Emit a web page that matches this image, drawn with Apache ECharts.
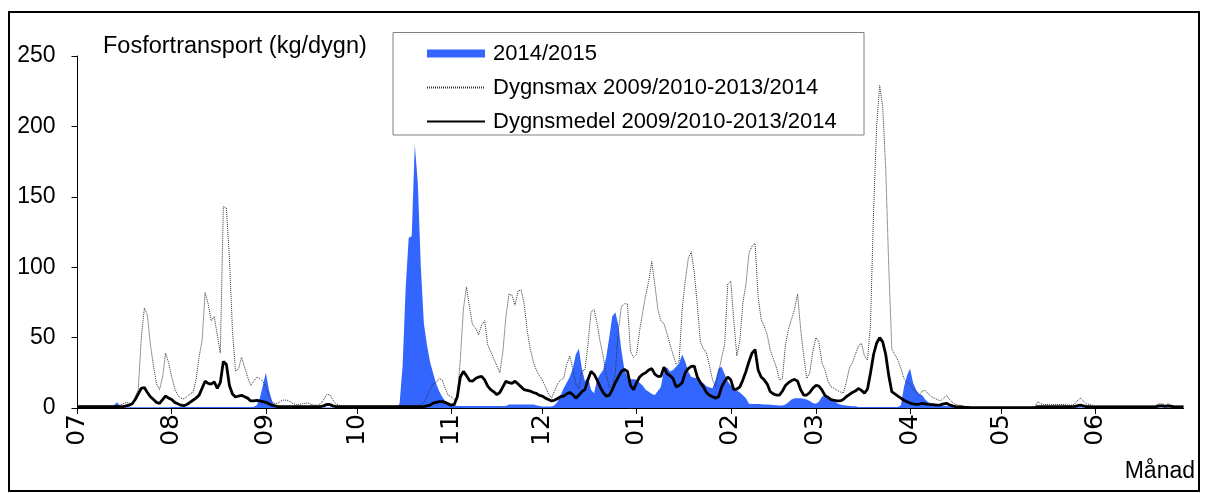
<!DOCTYPE html>
<html><head><meta charset="utf-8">
<script src="https://cdn.jsdelivr.net/npm/echarts@6/dist/echarts.min.js"></script>
<style>html,body{margin:0;padding:0;background:#fff}#c{width:1206px;height:493px}</style>
</head><body><div id="c"></div>
<script>
// Month tick labels (hydrological year July 2014 - June 2015) and month lengths
const monthLabels = ['07','08','09','10','11','12','01','02','03','04','05','06'];
const monthLengths = [31,31,30,31,30,31,31,28,31,30,31,30];

// 2014/2015 daily phosphorus transport (kg/dygn), one line per month
const flow1415 = [
/*07*/0.3,0.3,0.3,0.3,0.3,0.3,0.3,0.3,0.3,0.3,0.3,0.3,2,4,1.5,0.5,0.5,0.5,0.5,0.5,0.5,0.5,0.5,0.5,0.5,0.5,0.5,0.5,0.5,0.5,0.5,
/*08*/0.7,0.7,0.7,0.7,0.7,0.7,0.7,0.7,0.7,0.7,0.7,0.7,0.7,0.7,0.7,0.7,0.7,0.7,0.7,0.7,0.7,0.7,0.7,0.7,0.7,0.7,0.7,0.8,2,7,16,
/*09*/25,13,5,1.5,0.5,0.4,0.4,0.4,0.4,0.4,0.4,0.4,0.4,0.4,0.4,0.4,0.4,0.4,0.4,0.4,0.4,0.4,0.4,0.4,0.4,0.4,0.4,0.4,0.4,0.4,
/*10*/0.3,0.3,0.3,0.3,0.3,0.3,0.3,0.3,0.3,0.3,0.3,0.3,0.3,0.3,3,30,85,121,122,187,160,100,60,45,33,25,17.5,12,8,5,3,
/*11*/2.5,2,1.5,1.5,1.5,1.5,1.5,1.5,1.5,1.5,1.5,1.5,1.5,1.5,1.5,1.5,1.5,1.5,1.5,2.5,2.5,2.5,2.5,2.5,2.5,2.5,2.5,2.5,2,1.5,
/*12*/1,1,1,1,2,4.5,9,14,18,22,28,38,42,28,19,22,13,10.5,20,24,27,36,50,65,68,59,41,27,22,20.5,20.5,
/*01*/20,18,16,13,11.6,10,9.2,12,15,27,29,26,27,29.3,31.7,38,33,26,22,21.5,21,19,17.5,15.5,14.5,14,20,28,29.3,24,19,
/*02*/16,14,12.5,11,9,7,3,2.8,2.8,2.8,2.6,2.5,2.4,2.3,2.2,2,1.8,1.7,2.5,4,6,7,7,7,6.5,6,5,3.5,
/*03*/3,4.5,8,9.2,8,7,5,3.3,2.5,2,1.8,1.5,1.2,1.2,0.7,0.7,0.7,0.7,0.7,0.7,0.7,0.7,0.7,0.7,0.7,0.7,0.7,0.7,2,15,23,
/*04*/28,18,13,10,9,6,4,3.3,3,2.5,2,1.8,1.5,1.3,1.2,1,0.8,0.7,0.6,0.5,0.3,0.3,0.3,0.3,0.3,0.3,0.3,0.3,0.3,0.3,
/*05*/0.3,0.3,0.3,0.3,0.3,0.3,0.3,0.3,0.3,0.3,0.3,0.3,0.6,0.6,0.6,0.6,0.6,0.6,0.6,0.6,0.6,0.6,0.6,0.6,0.6,0.6,0.6,0.3,0.3,0.3,0.3,
/*06*/0.3,0.3,0.3,0.3,0.3,0.3,0.3,0.3,0.3,0.3,0.3,0.3,0.3,0.3,0.3,0.3,0.3,0.3,0.3,0.3,0.3,0.3,0.3,0.3,0.3,0.3,0.3,0.3,0.3,0.3
];

// Dygnsmax 2009/2010-2013/2014
const dygnsmax = [
/*07*/1.5,1.5,1.5,1.5,1.5,1.5,1.5,1.5,1.5,1.5,1.5,1.5,1.5,1.5,2,3,4,3.5,3,8,13,50,71,66,45,30,17,13,22,39,32,
/*08*/22,14,9,7,6.5,8,10,11,20,36,48,82,74,62,65,52,39,143,142,107,55,26,28,36,29,22,16,19,22,21,19,
/*09*/15,8,4.5,3,3.5,5,5.7,5.5,4.5,3,2.5,2.5,3,3.5,3.5,2.5,2,2,3,6,9.5,9.5,6,3,2,1.5,1.5,1.5,1.5,1.5,
/*10*/1.5,1.5,1.5,1.5,1.5,1.5,1.5,1.5,1.5,1.5,1.5,1.5,1.5,1.5,1.5,1.5,1.5,1.5,1.5,1.5,2,2.5,4,8,13,17,18,21,20,14,9,
/*11*/8,6,8,35,70,86,72,59,57,52,59,62,45,40,35,30,25,40,65,81,80,73,83,84,74,55,42,33,27,23,
/*12*/20,15,10,7,12,17,20,21,31,37,28,17,14,26,27,45,68,70,60,47,37,24,15,14,25,55,72,74,74,40,36,
/*01*/38,55,68,80,90,104,88,70,62,60,53,45,38,31,33,70,90,106,111,96,73,47,42,39,30,20,15,25,36,45,88,
/*02*/90,62,37,48,75,88,110,115,117,79,63,58,52,41,35,29,20,21,45,56,63,70,81,56,37,21,25,40,
/*03*/50,47,32,27,19,15,14,12.5,11.5,10.5,18,28,32,38,44,46,37,34,60,140,200,229,214,170,100,42,38,34,28,21,18,
/*04*/17,13,11,9,12,12.5,10,8,7,6,5,7,9,6,4,2.5,2,1.5,1,0.8,0.5,0.5,0.5,0.5,0.5,0.5,0.5,0.5,0.5,0.5,
/*05*/0.5,0.5,0.5,0.5,0.5,0.5,0.5,0.5,0.5,0.5,0.5,0.5,4.5,3,2.5,2.5,2.5,2.5,2.5,2.5,2.5,2.5,2,2,2.5,5,7,5,3,2.5,2,
/*06*/1.5,1.5,1.5,1.5,1.5,1.5,1.5,1.5,1.5,1.5,1.5,1.5,1.5,1.5,1.5,1.5,1.5,1.5,1.5,1.5,2,3,3,2,3,2,1.5,1.5,1.5,1.5
];

// Dygnsmedel 2009/2010-2013/2014
const dygnsmedel = [
/*07*/1,1,1,1,1,1,1,1,1,1,1,1,1,1,1,1,1.5,2,3,6,10,14,14.5,11,8,6,4,3.3,6,8.5,7,
/*08*/6,4,3,2,1.6,2.5,4,5.5,7,9,14,19,17.5,17,18.5,14,18,33,31,16,10,7.8,8.5,9,8,7,5,5,5.4,5,4.5,
/*09*/4,3,2,1.5,1,1,1,1,1,1,1,1,1,1,1,1,1,1,1,1.5,2.5,2.5,1.5,1,1,1,1,1,1,1,
/*10*/1,1,1,1,1,1,1,1,1,1,1,1,1,1,1,1,1,1,1,1,1,1,1,1.5,2,3.5,4,4.5,4.5,4,3,
/*11*/2,2.5,8,22,26,23,19.5,19,21,22,22.5,20,15.5,13,11.5,9.5,11,15,19,18,17.5,19,17,15,13,12.5,12,11,10.4,9,
/*12*/8.5,7,6,5,5.5,6.7,8,8.5,10,11,9.5,7,9,11.6,13,20,26,24,20,15,11,8.5,9,13,18,22,26,27.5,26,16,13,
/*01*/18,22,24,25,27,28,24,22.5,22.5,29,24.5,23,21,15,16,18,25,28,29.5,29.8,22,18,15,11,9,8,7,8,15,19,22,
/*02*/20,13,13.5,15,20,26,33,39,41.5,27,22,20,17,11.6,10,9.2,9.2,12,16,18,19.5,20.3,19,13,9.2,9.2,11,14,
/*03*/16,15.5,12.8,9,7.5,6,5.5,5,5,6,8,9.5,11,12,13.9,12.5,10.5,13.5,25,38,46,50,47,38,23,11.6,10,8.5,7,5.5,4.5,
/*04*/3.5,3,2.6,2.8,3.2,3,2.6,2.4,2.2,2,2.2,3,3.3,2.2,1.5,1,0.8,0.7,0.5,0.4,0.3,0.3,0.3,0.3,0.3,0.3,0.3,0.3,0.3,0.3,
/*05*/0.3,0.3,0.3,0.3,0.3,0.3,0.3,0.3,0.3,0.3,0.3,0.3,1,1,1,1,1,1,1,1,1,1,1,1,1,1.5,2,1.5,1,1,0.8,
/*06*/0.8,0.8,0.8,0.8,0.8,0.8,0.8,0.8,0.8,0.8,0.8,0.8,0.8,0.8,0.8,0.8,0.8,0.8,0.8,0.8,1,1.5,1.5,1.2,1.5,1.2,0.8,0.8,0.8,0.8
];

const seriesNames = ['2014/2015','Dygnsmax 2009/2010-2013/2014','Dygnsmedel 2009/2010-2013/2014'];
const yAxisTitle = 'Fosfortransport (kg/dygn)';
const xAxisTitle = 'Månad';

// Build day categories from the month list
const categories = [];
const monthStart = new Set();
monthLabels.forEach((m, i) => {
  monthStart.add(categories.length);
  for (let d = 1; d <= monthLengths[i]; d++) categories.push(m + '-' + String(d).padStart(2, '0'));
});

const FONT = '"Liberation Sans", Arial, sans-serif';
const noSymbol = {color: 'rgba(0,0,0,0)', borderWidth: 0, opacity: 0};
const chart = echarts.init(document.getElementById('c'), null, {renderer: 'canvas'});
chart.setOption({
  animation: false,
  backgroundColor: '#fff',
  grid: {left: 77.5, right: 22.5, top: 56, bottom: 85, containLabel: false, outerBoundsMode: 'none'},
  xAxis: {
    type: 'category', data: categories, boundaryGap: false,
    axisLine: {lineStyle: {color: '#000', width: 1}},
    axisTick: {show: true, interval: (i) => monthStart.has(i), length: 6, lineStyle: {color: '#000', width: 1}},
    axisLabel: {interval: (i) => monthStart.has(i), rotate: 90, margin: 6, fontSize: 25, color: '#000',
      fontFamily: '"DejaVu Sans", sans-serif', formatter: (v) => v.slice(0, 2), hideOverlap: false},
    splitLine: {show: false}
  },
  yAxis: {
    type: 'value', min: 0, max: 250, interval: 50,
    axisLine: {show: true, lineStyle: {color: '#000', width: 1}},
    axisTick: {show: true, length: 6, lineStyle: {color: '#000'}},
    axisLabel: {fontSize: 23, margin: 22, color: '#000', fontFamily: FONT},
    splitLine: {show: false}
  },
  legend: {
    orient: 'vertical', left: 426, top: 42.5, itemWidth: 58, itemHeight: 8, itemGap: 12, padding: 0,
    textStyle: {fontSize: 22, color: '#000', fontFamily: FONT, padding: [0, 0, 0, 3]},
    data: [
      {name: seriesNames[0], icon: 'rect'},
      {name: seriesNames[1], itemStyle: noSymbol},
      {name: seriesNames[2], itemStyle: noSymbol}
    ]
  },
  series: [
    {name: seriesNames[0], type: 'line', data: flow1415, symbol: 'none', color: '#3366ff',
      lineStyle: {width: 0}, areaStyle: {color: '#3366ff', opacity: 1}, z: 1},
    {name: seriesNames[1], type: 'line', data: dygnsmax, symbol: 'none', color: '#333',
      lineStyle: {color: '#333', width: 1, type: [1, 1]}, z: 2},
    {name: seriesNames[2], type: 'line', data: dygnsmedel, symbol: 'none', color: '#000',
      lineStyle: {color: '#000', width: 2.8}, z: 3}
  ],
  graphic: [
    {type: 'rect', shape: {x: 9, y: 12, width: 1190, height: 479}, style: {fill: 'none', stroke: '#000', lineWidth: 2}, silent: true},
    {type: 'rect', shape: {x: 393, y: 32.5, width: 471, height: 102.5}, style: {fill: 'none', stroke: '#808080', lineWidth: 1}, silent: true},
    {type: 'text', x: 103, y: 47, style: {text: yAxisTitle, fontSize: 23.5, fontFamily: FONT, fill: '#000',
      align: 'left', verticalAlign: 'middle', textAlign: 'left', textVerticalAlign: 'middle'}},
    {type: 'text', x: 1195, y: 471.5, style: {text: xAxisTitle, fontSize: 23, fontFamily: FONT, fill: '#000',
      align: 'right', verticalAlign: 'middle', textAlign: 'right', textVerticalAlign: 'middle'}}
  ]
});
</script></body></html>
